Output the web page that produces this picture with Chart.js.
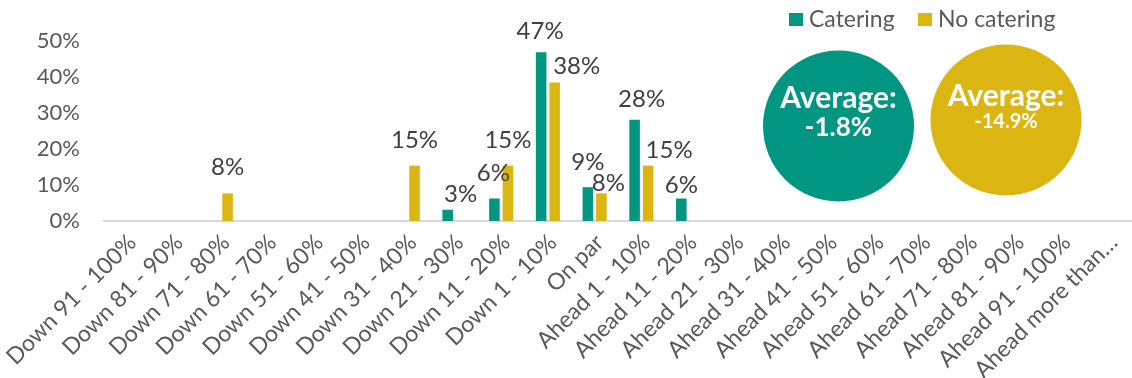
<!DOCTYPE html>
<html>
<head>
<meta charset="utf-8">
<script src="https://cdn.jsdelivr.net/npm/chart.js@4"></script>
<style>
  html, body { margin: 0; padding: 0; background: #fff; }
  #wrap { position: relative; width: 1132px; height: 378px; }
</style>
</head>
<body>
<div id="wrap"><canvas id="chart"></canvas></div>
<script>
// kategorier (x-akse)
const categories = [
    'Down 91 - 100%', 'Down 81 - 90%', 'Down 71 - 80%', 'Down 61 - 70%', 'Down 51 - 60%',
    'Down 41 - 50%', 'Down 31 - 40%', 'Down 21 - 30%', 'Down 11 - 20%', 'Down 1 - 10%',
    'On par',
    'Ahead 1 - 10%', 'Ahead 11 - 20%', 'Ahead 21 - 30%', 'Ahead 31 - 40%', 'Ahead 41 - 50%',
    'Ahead 51 - 60%', 'Ahead 61 - 70%', 'Ahead 71 - 80%', 'Ahead 81 - 90%', 'Ahead 91 - 100%',
    'Ahead more than\u2026'
];

// andele i procent
const cateringValues = [0, 0, 0, 0, 0, 0, 0, 3.13, 6.25, 46.88, 9.38, 28.13, 6.25, 0, 0, 0, 0, 0, 0, 0, 0, 0];
const noCateringValues = [0, 0, 7.69, 0, 0, 0, 15.38, 0, 15.38, 38.46, 7.69, 15.38, 0, 0, 0, 0, 0, 0, 0, 0, 0, 0];

const seriesNames = ['Catering', 'No catering'];
const averageLabels = ['-1.8%', '-14.9%'];
const yTicks = [0, 10, 20, 30, 40, 50];

const TEAL = '#009682';
const GOLD = '#DBB612';
const FONT = 'Lato';

// flyttede etiketter (som i Excel): [dx, afstand over søjlen]
const labelShift = [
    { 7: [13, 8], 8: [-1, 18], 9: [-1, 13], 10: [0, 17], 11: [7, 13], 12: [0, 6] },
    { 2: [0, 18], 6: [0, 18], 8: [0, 18], 9: [22, 9], 10: [7, 2], 11: [21, 8] }
];

// værdier over søjlerne
const barLabels = {
    id: 'barLabels',
    afterDatasetsDraw(chart) {
        const ctx = chart.ctx;
        ctx.save();
        ctx.font = '24px ' + FONT;
        ctx.fillStyle = '#404040';
        ctx.textAlign = 'center';
        ctx.textBaseline = 'alphabetic';
        chart.data.datasets.forEach((ds, i) => {
            chart.getDatasetMeta(i).data.forEach((bar, j) => {
                const v = ds.data[j];
                if (!v) return;
                const s = labelShift[i][j] || [0, 10];
                ctx.fillText(Math.round(v) + '%', bar.x + s[0], bar.y - s[1]);
            });
        });
        ctx.restore();
    }
};

// legende + gennemsnitscirkler
const extras = {
    id: 'extras',
    afterDraw(chart) {
        const ctx = chart.ctx;
        const ds = chart.data.datasets;
        ctx.save();

        // legende
        ctx.font = '23px ' + FONT;
        ctx.textBaseline = 'alphabetic';
        ctx.textAlign = 'left';
        const legendX = [789, 918];
        ds.forEach((d, i) => {
            ctx.fillStyle = d.backgroundColor;
            ctx.fillRect(legendX[i], 13, 14, 13);
            ctx.fillStyle = '#595959';
            ctx.fillText(d.label, legendX[i] + 20, 27);
        });

        // cirkler
        const circles = [
            { x: 838.5, y: 126, r: 75.5, t1: 108, t2: 136, size2: 26 },
            { x: 1006, y: 120, r: 75.5, t1: 106, t2: 128, size2: 20 }
        ];
        circles.forEach((c, i) => {
            ctx.fillStyle = ds[i].backgroundColor;
            ctx.beginPath();
            ctx.arc(c.x, c.y, c.r, 0, Math.PI * 2);
            ctx.fill();
            ctx.fillStyle = '#fff';
            ctx.textAlign = 'center';
            ctx.font = 'bold 30px ' + FONT;
            ctx.fillText('Average:', c.x, c.t1);
            ctx.font = 'bold ' + c.size2 + 'px ' + FONT;
            ctx.fillText(averageLabels[i], c.x, c.t2);
        });
        ctx.restore();
    }
};

new Chart(document.getElementById('chart').getContext('2d'), {
    type: 'bar',
    data: {
        labels: categories,
        datasets: [
            { label: seriesNames[0], data: cateringValues, backgroundColor: TEAL },
            { label: seriesNames[1], data: noCateringValues, backgroundColor: GOLD }
        ]
    },
    options: {
        responsive: true,
        maintainAspectRatio: false,
        animation: false,
        categoryPercentage: 0.58,
        barPercentage: 0.78,
        layout: { padding: { left: 37, right: 0, top: 41, bottom: 0 } },
        plugins: {
            legend: { display: false },
            tooltip: { enabled: false }
        },
        scales: {
            x: {
                grid: { display: false, drawTicks: false },
                border: { display: true, color: '#D9D9D9', width: 2 },
                ticks: {
                    color: '#595959',
                    font: { family: FONT, size: 23 },
                    minRotation: 45,
                    maxRotation: 45,
                    autoSkip: false,
                    padding: 8,
                    labelOffset: 5
                },
                afterFit(scale) {
                    // labels må gå ud over kanten, som i Excel
                    scale.paddingLeft = 0;
                    scale.paddingRight = 0;
                    scale.height = 157;
                }
            },
            y: {
                min: 0,
                max: 50,
                afterBuildTicks(axis) {
                    axis.ticks = yTicks.map(v => ({ value: v }));
                },
                afterFit(scale) {
                    scale.width = 67;
                },
                grid: { display: false, drawTicks: false },
                border: { display: false },
                ticks: {
                    color: '#595959',
                    font: { family: FONT, size: 22 },
                    padding: 24,
                    callback: v => v + '%'
                }
            }
        }
    },
    plugins: [barLabels, extras]
});
</script>
</body>
</html>
